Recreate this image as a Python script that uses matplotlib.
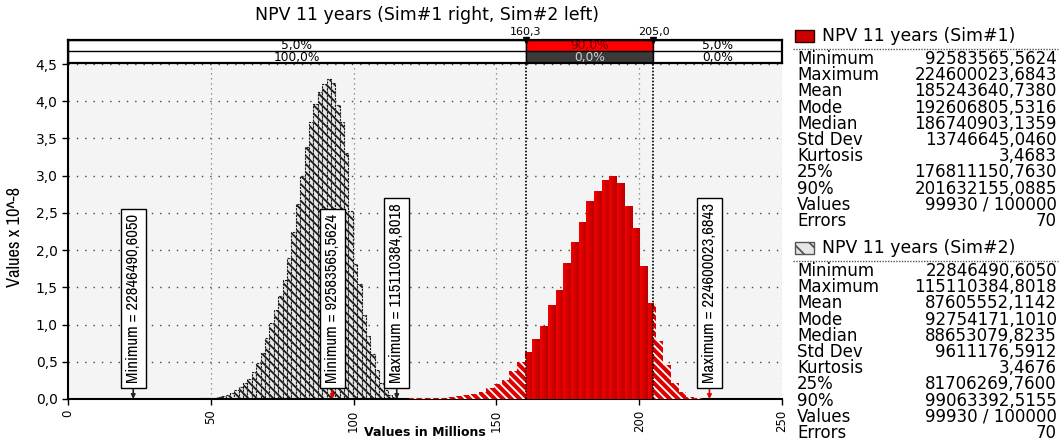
import numpy as np
import matplotlib.pyplot as plt
from matplotlib import font_manager as fm
from matplotlib.colors import LinearSegmentedColormap
from matplotlib.patches import Rectangle

# Dane
title = 'NPV 11 years (Sim#1 right, Sim#2 left)'
sim1_start, sim1_width = 92.58, 2.694
sim1_heights = [0.001, 0.001, 0.002, 0.002, 0.003, 0.003, 0.004, 0.004, 0.005,
                0.005, 0.007, 0.01, 0.012, 0.015, 0.02, 0.03, 0.04, 0.06, 0.07,
                0.10, 0.15, 0.20, 0.26, 0.38, 0.50, 0.63, 0.80, 0.98, 1.25, 1.46,
                1.82, 2.10, 2.37, 2.65, 2.79, 2.94, 2.99, 2.89, 2.59, 2.29, 1.78,
                1.28, 0.78, 0.46, 0.22, 0.10, 0.03, 0.01, 0.005]
sim2_start, sim2_width = 22.85, 1.538
sim2_heights = [0.001, 0.001, 0.001, 0.001, 0.001, 0.001, 0.001, 0.002, 0.002,
                0.002, 0.002, 0.003, 0.004, 0.005, 0.006, 0.008, 0.01, 0.015, 0.02,
                0.03, 0.04, 0.05, 0.08, 0.12, 0.16, 0.21, 0.27, 0.36, 0.48, 0.62,
                0.82, 1.02, 1.20, 1.38, 1.60, 1.90, 2.25, 2.62, 2.99, 3.38, 3.72,
                3.96, 4.12, 4.23, 4.30, 4.25, 3.95, 3.72, 3.30, 2.53, 1.82, 1.55,
                1.13, 0.85, 0.60, 0.39, 0.22, 0.12, 0.06, 0.03]
delims = [160.3, 205.0]
delim_labels = ['160,3', '205,0']
band_sim1 = ['5,0%', '90,0%', '5,0%']
band_sim2 = ['100,0%', '0,0%', '0,0%']
marker_x = [22.846, 92.584, 115.110, 224.600]
marker_text = ['Minimum = 22846490,6050', 'Minimum = 92583565,5624',
               'Maximum = 115110384,8018', 'Maximum = 224600023,6843']
marker_sim = [2, 1, 2, 1]
stat_names = ['Minimum', 'Maximum', 'Mean', 'Mode', 'Median', 'Std Dev',
              'Kurtosis', '25%', '90%', 'Values', 'Errors']
sim1_stats = ['92583565,5624', '224600023,6843', '185243640,7380', '192606805,5316',
              '186740903,1359', '13746645,0460', '3,4683', '176811150,7630',
              '201632155,0885', '99930 / 100000', '70']
sim2_stats = ['22846490,6050', '115110384,8018', '87605552,1142', '92754171,1010',
              '88653079,8235', '9611176,5912', '3,4676', '81706269,7600',
              '99063392,5155', '99930 / 100000', '70']

W, H = 1060, 441
plt.rcParams['hatch.linewidth'] = 1.3


# waska czcionka (jak Arial Narrow), jesli jest
def pick_narrow():
    best = None
    for f in fm.fontManager.ttflist:
        n, p = f.name.lower(), f.fname.lower()
        if f.style != 'normal' or f.weight not in (400, 'normal', 'regular', 'book'):
            continue
        if 'mono' in p or ('serif' in p and 'sans' not in p):
            continue
        if 'narrow' in n or 'narrow' in p:
            score = 0
        elif 'condensed' in p and 'semi' not in p and 'extra' not in p and 'ultra' not in p:
            score = 1
        elif 'condensed' in str(f.stretch):
            score = 2
        else:
            continue
        if best is None or score < best[0]:
            best = (score, f.fname)
    if best:
        return fm.FontProperties(fname=best[1])
    return fm.FontProperties(family='DejaVu Sans')

narrow = pick_narrow()

fig = plt.figure(figsize=(W / 100, H / 100), dpi=100)
renderer = fig.canvas.get_renderer()


def fx(x):
    return x / W


def fy(y):
    return 1 - y / H


def fit_size(text, length_px, rot=90):
    t = fig.text(0, 0, text, fontproperties=narrow, size=10, rotation=rot)
    bb = t.get_window_extent(renderer)
    t.remove()
    ext = bb.height if rot == 90 else bb.width
    return 10 * length_px / ext


# Wykres glowny
ax = fig.add_axes([fx(68), fy(399), 714 / W, 335 / H])
ax.set_facecolor('#f4f4f4')
for v in np.arange(0.5, 4.51, 0.5):
    ax.axhline(v, color='#444444', lw=1.0, ls=(0, (1, 5)), zorder=0)
for v in [50, 100, 150, 200, 250]:
    ax.axvline(v, color='#777777', lw=0.9, ls=(0, (1, 3)), zorder=0)

# Sim#2 - szary kreskowany
for i, h in enumerate(sim2_heights):
    left = sim2_start + i * sim2_width
    ax.bar(left, h, width=sim2_width, align='edge', facecolor='#e8e8e8',
           edgecolor='#1a1a1a', linewidth=0.8, linestyle=(0, (2, 1)),
           hatch='\\\\\\\\', zorder=2)

# Sim#1 - czerwony
red_cmap = LinearSegmentedColormap.from_list('r', ['#f40000', '#b80000'])
grad = np.linspace(0, 1, 20).reshape(1, -1)
for i, h in enumerate(sim1_heights):
    left = sim1_start + i * sim1_width
    right = left + sim1_width
    segs = [(left, min(right, delims[0]), False),
            (max(left, delims[0]), min(right, delims[1]), True),
            (max(left, delims[1]), right, False)]
    for a, b, inside in segs:
        if b <= a:
            continue
        if inside:
            ax.imshow(grad, extent=[a, b, 0, h], aspect='auto', zorder=3,
                      cmap=red_cmap, interpolation='bilinear')
        else:
            ax.bar(a, h, width=b - a, align='edge', facecolor='#dd0000',
                   edgecolor='white', linewidth=0, hatch='\\\\\\\\', zorder=3)
ax.set_xlim(0, 250)
ax.set_ylim(0, 4.5)

for d in delims:
    ax.axvline(d, color='black', lw=1.2, ls=(0, (1, 1)), zorder=5)

# Etykiety minimum / maksimum
mfs = fit_size(marker_text[0], 168)
pad = 0.3
for x, t, s in zip(marker_x, marker_text, marker_sim):
    col = '#e00000' if s == 1 else '#222222'
    ax.annotate(t, xy=(x, 0), xytext=(0, 7.9 + pad * mfs), textcoords='offset points',
                rotation=90, ha='center', va='bottom', fontproperties=narrow,
                fontsize=mfs, zorder=6,
                bbox=dict(boxstyle=f'square,pad={pad}', fc='white', ec='black', lw=1),
                arrowprops=dict(arrowstyle='-|>', color=col, lw=1.2,
                                mutation_scale=6, shrinkA=0, shrinkB=0))

ax.spines['top'].set_visible(False)
ax.spines['right'].set_visible(False)
ax.spines['left'].set_linewidth(1.5)
ax.spines['bottom'].set_linewidth(1.5)
yt = np.arange(0, 4.51, 0.5)
ax.set_yticks(yt)
ax.set_yticklabels([f'{v:.1f}'.replace('.', ',') for v in yt], fontsize=10)
ax.set_xticks([0, 50, 100, 150, 200, 250])
ax.set_xticklabels(['0', '50', '100', '150', '200', '250'], rotation=90, fontsize=8.5)
ax.tick_params(axis='both', length=4, width=1)
fig.text(fx(425), fy(432), 'Values in Millions', ha='center', va='center',
         fontsize=9, fontweight='bold')
fig.text(fx(15), fy(237), 'Values x 10^-8', rotation=90, ha='center', va='center',
         fontproperties=narrow, fontsize=fit_size('Values x 10^-8', 100))

# Pasek procentow
axb = fig.add_axes([fx(68), fy(63), 714 / W, 23 / H])
axb.set_xlim(0, 250)
axb.set_ylim(0, 2)
axb.set_xticks([])
axb.set_yticks([])
edges = [0, delims[0], delims[1], 250]
for j in range(3):
    a, b = edges[j], edges[j + 1]
    c1 = '#ff0000' if j == 1 else 'white'
    c2 = '#3a3a3a' if j == 1 else 'white'
    axb.add_patch(Rectangle((a, 1), b - a, 1, fc=c1, ec='black', lw=1))
    axb.add_patch(Rectangle((a, 0), b - a, 1, fc=c2, ec='black', lw=1))
    axb.text((a + b) / 2, 1.48, band_sim1[j], ha='center', va='center', fontsize=8.8,
             color='#700000' if j == 1 else 'black')
    axb.text((a + b) / 2, 0.48, band_sim2[j], ha='center', va='center', fontsize=8.8,
             color='#d0d0d0' if j == 1 else 'black')
for s in axb.spines.values():
    s.set_linewidth(1.6)
for d, lab in zip(delims, delim_labels):
    axb.plot([d], [2], marker='v', color='black', ms=5, clip_on=False, zorder=6)
    axb.text(d, 2.3, lab, ha='center', va='bottom', fontsize=8)

fig.text(fx(427), fy(15), title, ha='center', va='center', fontsize=12.5)


# Statystyki
def block(y0, name, stats, icon):
    fig.patches.append(Rectangle((fx(795), fy(y0 + 6)), 19 / W, 12 / H,
                                 transform=fig.transFigure, figure=fig, **icon))
    fig.text(fx(822), fy(y0), name, ha='left', va='center', fontsize=12.4)
    fig.add_artist(plt.Line2D([fx(793), fx(1058)], [fy(y0 + 13), fy(y0 + 13)],
                              color='#555555', lw=1, ls=(0, (1, 1)),
                              transform=fig.transFigure))
    for k, (n, v) in enumerate(zip(stat_names, stats)):
        yy = y0 + 23 + 16.2 * k
        fig.text(fx(797), fy(yy), n, ha='left', va='center', fontsize=12)
        fig.text(fx(1057), fy(yy), v, ha='right', va='center', fontsize=12)


block(36, 'NPV 11 years (Sim#1)', sim1_stats,
      dict(fc='#cc0000', ec='#300000', lw=1))
block(248, 'NPV 11 years (Sim#2)', sim2_stats,
      dict(fc='#e6e6e6', ec='#555555', lw=1, hatch='\\\\'))

fig.savefig('out.png', dpi=100)
